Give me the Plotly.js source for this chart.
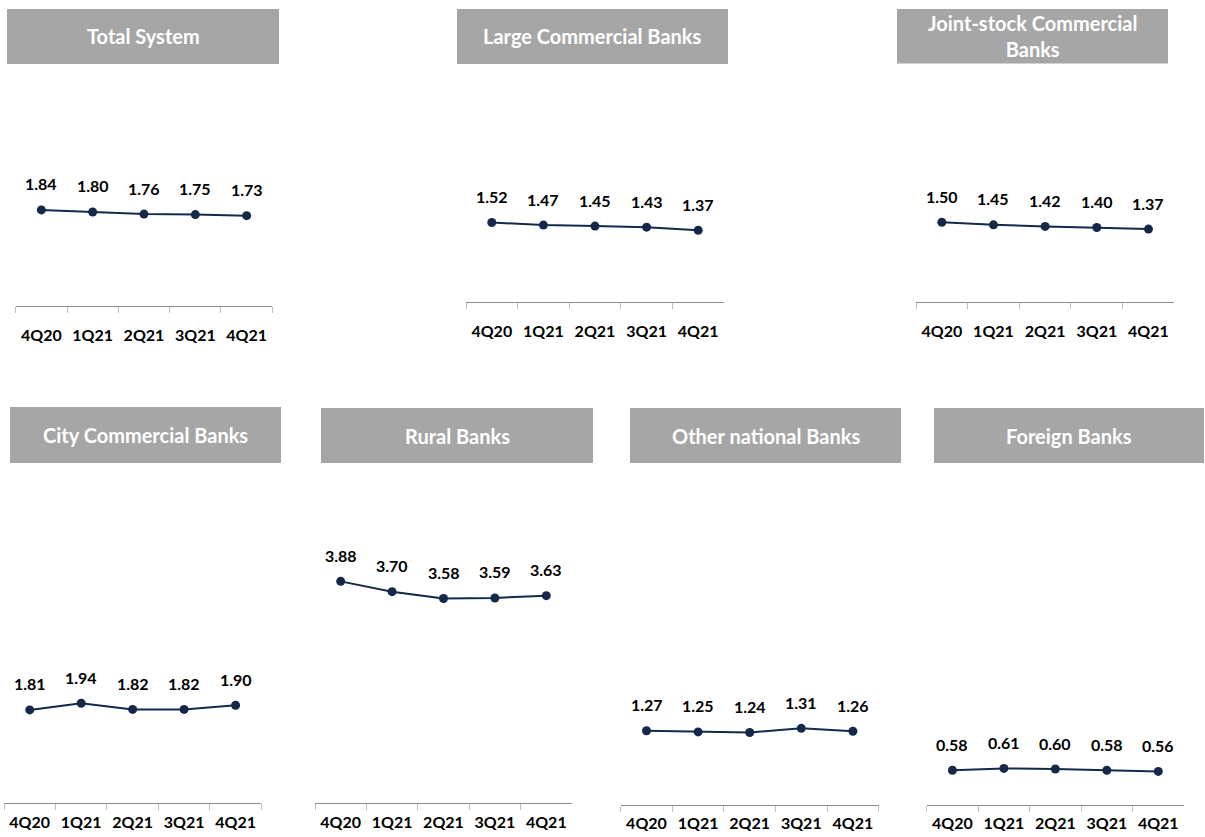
<!DOCTYPE html>
<html>
<head>
<meta charset="utf-8">
<script src="https://cdn.plot.ly/plotly-3.0.1.min.js"></script>
<style>html,body{margin:0;padding:0;background:#fff;}#chart{width:1205px;height:837px;}</style>
</head>
<body>
<div id="chart"></div>
<script>
// ---- data ----
const quarters = ["4Q20", "1Q21", "2Q21", "3Q21", "4Q21"];
const panelTitles = ["Total System", "Large Commercial Banks", "Joint-stock Commercial<br>Banks",
  "City Commercial Banks", "Rural Banks", "Other national Banks", "Foreign Banks"];
const totalSystem = [1.84, 1.80, 1.76, 1.75, 1.73];
const largeCommercial = [1.52, 1.47, 1.45, 1.43, 1.37];
const jointStock = [1.50, 1.45, 1.42, 1.40, 1.37];
const cityCommercial = [1.81, 1.94, 1.82, 1.82, 1.90];
const ruralBanks = [3.88, 3.70, 3.58, 3.59, 3.63];
const otherNational = [1.27, 1.25, 1.24, 1.31, 1.26];
const foreignBanks = [0.58, 0.61, 0.60, 0.58, 0.56];
const seriesList = [totalSystem, largeCommercial, jointStock, cityCommercial, ruralBanks, otherNational, foreignBanks];

// ---- layout geometry (pixels) ----
const W = 1205, H = 837;
const geo = [
  {x0: 15.7, x1: 272.3, bottom: 305.6, top: 100, s: 52.0, box: [7, 9, 279, 64], standoff: 15},
  {x0: 466, x1: 724, bottom: 301.5, top: 100, s: 52.0, box: [457, 9, 728, 64], standoff: 15},
  {x0: 916, x1: 1174.3, bottom: 301.7, top: 100, s: 53.0, box: [897, 9, 1168, 63.5], standoff: 15},
  {x0: 4, x1: 261.3, bottom: 803.3, top: 480, s: 51.6, box: [10, 407, 281, 463], standoff: 4},
  {x0: 315, x1: 572, bottom: 803.3, top: 480, s: 57.2, box: [321, 408, 593, 463], standoff: 4},
  {x0: 620.7, x1: 878.7, bottom: 805, top: 480, s: 58.5, box: [630, 408, 901, 463], standoff: 4},
  {x0: 926.7, x1: 1184, bottom: 805, top: 480, s: 60.0, box: [934, 408, 1204, 463], standoff: 4}
];
const px = x => x / W;
const py = y => 1 - y / H;

const lineColor = "#142849";
const labelFont = {family: "Lato, 'Open Sans', sans-serif", size: 16, color: "#000000", weight: "bold"};
const tickFont = {family: "Lato, 'Open Sans', sans-serif", size: 16, color: "#000000", weight: "bold"};
const titleFont = {family: "Lato, 'Open Sans', sans-serif", size: 20, color: "#ffffff", weight: "bold"};

const traces = [];
const layout = {
  width: W, height: H,
  margin: {l: 0, r: 0, t: 0, b: 0},
  paper_bgcolor: "#ffffff", plot_bgcolor: "#ffffff",
  showlegend: false,
  shapes: [], annotations: []
};

seriesList.forEach((vals, i) => {
  const n = i + 1;
  const xa = n === 1 ? "x" : "x" + n;
  const ya = n === 1 ? "y" : "y" + n;
  const g = geo[i];
  traces.push({
    type: "scatter", mode: "lines+markers",
    x: quarters, y: vals, xaxis: xa, yaxis: ya,
    line: {color: lineColor, width: 2},
    marker: {color: lineColor, size: 9},
    hoverinfo: "x+y"
  });
  layout["xaxis" + (n === 1 ? "" : n)] = {
    domain: [px(g.x0), px(g.x1)],
    anchor: ya,
    type: "category",
    range: [-0.5, quarters.length - 0.5],
    showline: true, linecolor: "#8c8c8c", linewidth: 1,
    ticks: "outside", tickson: "boundaries", ticklen: 6, tickcolor: "#bfbfbf", tickwidth: 1,
    ticklabelstandoff: g.standoff, tickangle: 0,
    showgrid: false, zeroline: false,
    tickfont: tickFont, fixedrange: true
  };
  layout["yaxis" + (n === 1 ? "" : n)] = {
    domain: [py(g.bottom), py(g.top)],
    anchor: xa,
    range: [0, (g.bottom - g.top) / g.s],
    showline: false, showgrid: false, zeroline: false,
    showticklabels: false, ticks: "", fixedrange: true
  };
  // value labels
  vals.forEach((v, k) => {
    layout.annotations.push({
      xref: xa, yref: ya, x: quarters[k], y: v,
      text: v.toFixed(2), showarrow: false,
      yshift: 26, xanchor: "center", yanchor: "middle",
      font: labelFont
    });
  });
  // title box
  const b = g.box;
  layout.shapes.push({
    type: "rect", xref: "paper", yref: "paper",
    x0: px(b[0]), x1: px(b[2]), y0: py(b[3]), y1: py(b[1]),
    fillcolor: "#a6a6a6", line: {width: 0}, layer: "below"
  });
  layout.annotations.push({
    xref: "paper", yref: "paper",
    x: px((b[0] + b[2]) / 2), y: py((b[1] + b[3]) / 2),
    text: panelTitles[i], showarrow: false,
    xanchor: "center", yanchor: "middle", align: "center",
    font: titleFont
  });
});

Plotly.newPlot("chart", traces, layout, {displayModeBar: false, staticPlot: false});
</script>
</body>
</html>
